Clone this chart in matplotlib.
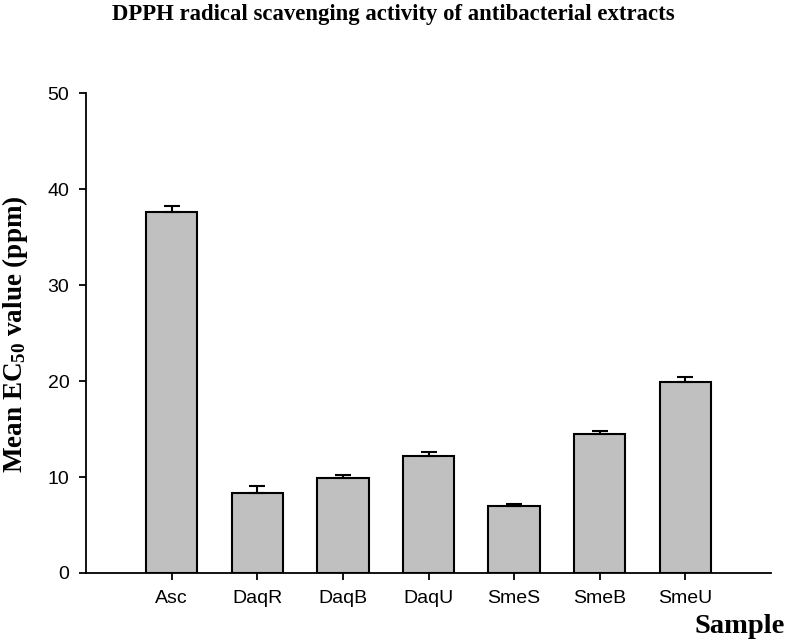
import numpy as np
import matplotlib
matplotlib.use("Agg")
import matplotlib.pyplot as plt

# values
samples = ["Asc", "DaqR", "DaqB", "DaqU", "SmeS", "SmeB", "SmeU"]
ec50_mean = [37.6, 8.3, 9.85, 12.2, 7.0, 14.5, 19.9]
ec50_se = [0.65, 0.8, 0.4, 0.45, 0.15, 0.25, 0.55]
y_ticks = [0, 10, 20, 30, 40, 50]

SERIF = "Liberation Serif"
SANS = "Liberation Sans"

plt.rcParams["mathtext.fontset"] = "custom"
plt.rcParams["mathtext.rm"] = "Liberation Serif:bold"
plt.rcParams["mathtext.bf"] = "Liberation Serif:bold"
plt.rcParams["mathtext.default"] = "rm"

fig = plt.figure(figsize=(7.87, 6.42), dpi=100)
ax = fig.add_axes([0.1093, 0.1075, 0.8704, 0.7475])

x = np.arange(len(samples))
ax.bar(x, ec50_mean, width=0.6, color="#c0c0c0", edgecolor="black", linewidth=1.5, zorder=2)
ax.errorbar(x, ec50_mean, yerr=[np.zeros(len(x)), ec50_se], fmt="none",
            ecolor="black", elinewidth=1.5, capsize=5.5, capthick=1.5, zorder=3)

ax.set_xlim(-1, 7)
ax.set_ylim(0, 50)
ax.set_xticks(x)
ax.set_xticklabels(samples, fontfamily=SANS, fontsize=14)
ax.set_yticks(y_ticks)
ax.set_yticklabels([str(v) for v in y_ticks], fontfamily=SANS, fontsize=14)
ax.tick_params(direction="out", length=5, width=1.3, pad=7)

for side in ["top", "right"]:
    ax.spines[side].set_visible(False)
for side in ["left", "bottom"]:
    ax.spines[side].set_linewidth(1.3)

fig.text(0.0195, 0.479, "Mean EC$_{50}$ value (ppm)", rotation=90, ha="center", va="center",
         fontfamily=SERIF, fontweight="bold", fontsize=19.5)
fig.text(0.997, 0.005, "Sample", ha="right", va="bottom", fontfamily=SERIF,
         fontweight="bold", fontsize=20.5)
fig.text(0.5, 0.994, "DPPH radical scavenging activity of antibacterial extracts",
         ha="center", va="top", fontfamily=SERIF, fontweight="bold", fontsize=16.4)

fig.savefig("out.png", dpi=100)
